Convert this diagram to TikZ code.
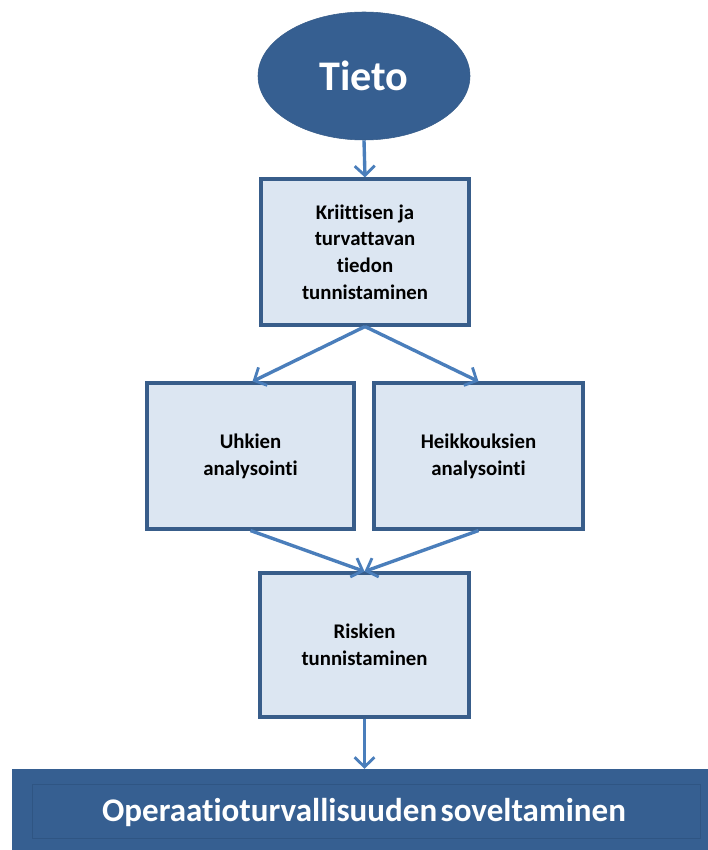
\documentclass[tikz,border=0pt]{standalone}
\usepackage{fontspec}
\setmainfont{Carlito}[Ligatures=NoCommon]
\usetikzlibrary{arrows.meta, positioning, shapes.geometric}
\definecolor{tidark}{HTML}{365F91}
\definecolor{tiedge}{HTML}{385D8A}
\definecolor{tifill}{HTML}{DCE6F2}
\definecolor{tiarrow}{HTML}{4A7EBB}
\definecolor{tiinner}{HTML}{2F5583}

\begin{document}
\begin{tikzpicture}[
  every node/.style={font=\bfseries},
  stepbox/.style={rectangle, draw=tiedge, fill=tifill, line width=2.2pt, minimum height=3.65cm, align=center, font=\fontsize{14.8}{19}\selectfont\bfseries},
  flow/.style={-{Straight Barb[length=2.4mm, width=5mm, line width=2pt]}, tiarrow, line width=2.4pt},
]
\useasboundingbox (0,0) rectangle (17.7,-21.25);

% Source
\node[ellipse, fill=tidark, draw=tiedge, minimum width=5.3cm, minimum height=3.2cm, text=white, font=\fontsize{30}{34}\selectfont\bfseries] (tieto) at (9.1, -1.9) {Tieto};

% Steps
\node[stepbox, minimum width=5.2cm] (kriit) at (9.125, -6.3) {Kriittisen ja\\turvattavan\\tiedon\\tunnistaminen};
\node[stepbox, minimum width=5.175cm] (uhkat) at (6.2625, -11.4) {Uhkien\\analysointi};
\node[stepbox, minimum width=5.225cm] (heikko) at (11.9625, -11.4) {Heikkouksien\\analysointi};
\node[stepbox, minimum width=5.225cm, minimum height=3.6cm] (riskit) at (9.1125, -16.125) {Riskien\\tunnistaminen};

% Result bar
\node[rectangle, fill=tidark, minimum width=17.8cm, minimum height=2.05cm, anchor=north west] (opsec) at (0.3, -19.22) {};
\draw[tiinner, line width=0.6pt] (0.82, -19.62) rectangle (17.5, -20.95);
\node[text=white, font=\fontsize{23.5}{27}\selectfont\bfseries] (opsectext) at (9.1, -20.3) {Operaatioturvallisuuden\hspace{0.1em}soveltaminen};

% Arrows
\draw[flow] (tieto.south) -- (kriit.north);
\draw[flow] (kriit.south) -- ([xshift=0.05cm]uhkat.north);
\draw[flow] (kriit.south) -- (heikko.north);
\draw[flow] (uhkat.south) -- (riskit.north);
\draw[flow] (heikko.south) -- (riskit.north);
\draw[flow] (riskit.south) -- (riskit.south |- opsec.north);

\end{tikzpicture}
\end{document}
